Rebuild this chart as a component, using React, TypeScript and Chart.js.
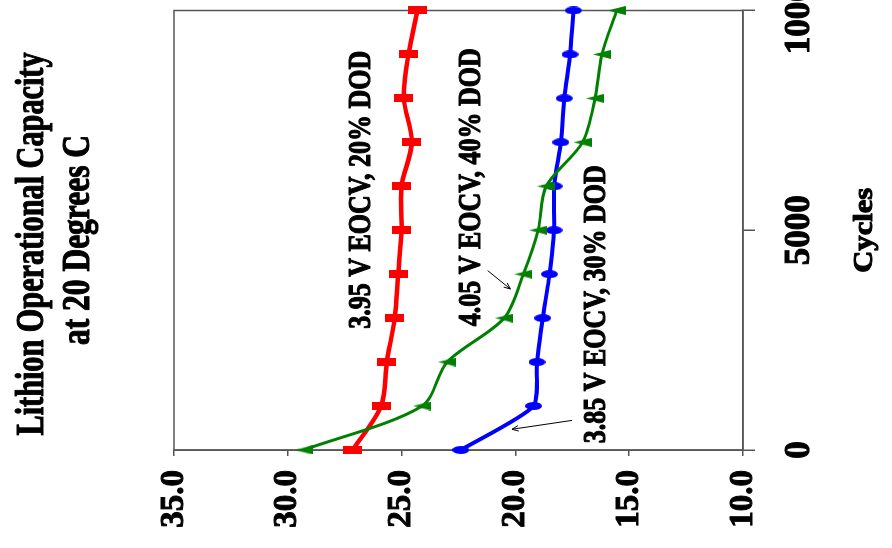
import React, { useEffect, useRef } from 'react';
import { Chart, registerables } from 'chart.js';

Chart.register(...registerables);

// ---- data ----
const cycles = [0, 1000, 2000, 3000, 4000, 5000, 6000, 7000, 8000, 9000, 10000];
const eocv395 = [27.15, 25.9, 25.65, 25.3, 25.15, 25.0, 25.0, 24.55, 24.9, 24.7, 24.3];
const eocv385 = [22.4, 19.2, 19.05, 18.8, 18.5, 18.3, 18.3, 18.0, 17.85, 17.6, 17.45];
const eocv405 = [29.3, 24.1, 23.0, 20.5, 19.65, 19.0, 18.65, 17.05, 16.5, 16.2, 15.55];
const seriesLabels = ['3.95 V EOCV, 20% DOD', '3.85 V EOCV, 30% DOD', '4.05 V EOCV, 40% DOD'];
const titleLines = ['Lithion Operational Capacity', 'at 20 Degrees C'];
const xAxisTitle = 'Cycles';
const capacityRange = [10, 35];
const cycleRange = [0, 10000];

// label anchors (in data units) for the series annotations
const labelCycles = [5921, 3315, 5978];
const labelCapacity = [26.38, 16.05, 21.54];
// arrows: [tailCycles, tailCap, headCycles, headCap]
const arrows = [
  [674, 17.51, 472, 20.15],
  [4083, 21.22, 3663, 20.22],
];

const FONT = '"Liberation Serif", "Times New Roman", serif';

function drawFit(ctx: CanvasRenderingContext2D, text: string, cx: number, baseline: number, size: number, width: number) {
  ctx.save();
  ctx.font = `bold ${size}px ${FONT}`;
  const w = ctx.measureText(text).width;
  const s = width / w;
  ctx.translate(cx, baseline);
  ctx.scale(s, 1);
  ctx.textAlign = 'center';
  ctx.textBaseline = 'alphabetic';
  ctx.fillStyle = '#000';
  ctx.strokeStyle = '#000';
  ctx.lineWidth = 1.1;
  ctx.lineJoin = 'round';
  ctx.fillText(text, 0, 0);
  ctx.strokeText(text, 0, 0);
  ctx.restore();
}

function makeMarker(kind: string, color: string, w: number, h: number) {
  const c = document.createElement('canvas');
  c.width = w;
  c.height = h;
  const g = c.getContext('2d')!;
  g.fillStyle = color;
  g.beginPath();
  if (kind === 'rect') {
    g.rect(0, 0, w, h);
  } else if (kind === 'ellipse') {
    g.ellipse(w / 2, h / 2, w / 2, h / 2, 0, 0, Math.PI * 2);
  } else {
    g.moveTo(w / 2, 0);
    g.lineTo(w, h);
    g.lineTo(0, h);
    g.closePath();
  }
  g.fill();
  return c;
}

const framePlugin = {
  id: 'frame',
  beforeDatasetsDraw(chart: any) {
    const { ctx, chartArea: a } = chart;
    ctx.save();
    ctx.strokeStyle = '#555';
    ctx.lineWidth = 1.5;
    ctx.strokeRect(a.left, a.top, a.right - a.left, a.bottom - a.top);
    ctx.restore();
  },
};

const textPlugin = {
  id: 'texts',
  afterDraw(chart: any) {
    const { ctx, chartArea: a } = chart;
    const xs = chart.scales.x;
    const ys = chart.scales.y;
    drawFit(ctx, titleLines[0], 304, 43, 39, 383);
    drawFit(ctx, titleLines[1], 308, 89, 39, 210);
    drawFit(ctx, xAxisTitle, (a.left + a.right) / 2, 872, 28, 85);
    seriesLabels.forEach((t, i) => {
      drawFit(ctx, t, xs.getPixelForValue(labelCycles[i]), ys.getPixelForValue(labelCapacity[i]), 31, 278);
    });
    ctx.save();
    ctx.strokeStyle = '#000';
    ctx.lineWidth = 1;
    arrows.forEach(([tc, tv, hc, hv]) => {
      const x1 = xs.getPixelForValue(tc);
      const y1 = ys.getPixelForValue(tv);
      const x2 = xs.getPixelForValue(hc);
      const y2 = ys.getPixelForValue(hv);
      const ang = Math.atan2(y2 - y1, x2 - x1);
      ctx.beginPath();
      ctx.moveTo(x1, y1);
      ctx.lineTo(x2, y2);
      for (const d of [0.4, -0.4]) {
        ctx.moveTo(x2, y2);
        ctx.lineTo(x2 - 7 * Math.cos(ang + d), y2 - 7 * Math.sin(ang + d));
      }
      ctx.stroke();
    });
    ctx.restore();
  },
};

export default function App() {
  const ref = useRef<HTMLCanvasElement>(null);
  useEffect(() => {
    const canvas = ref.current!;
    const red = makeMarker('rect', '#FF0000', 8, 19);
    const blue = makeMarker('ellipse', '#0000FF', 8, 17);
    const green = makeMarker('tri', '#008000', 9, 18);
    const pts = (arr: number[]) => arr.map((v, i) => ({ x: cycles[i], y: v }));
    const chart = new Chart(canvas, {
      type: 'line',
      data: {
        datasets: [
          {
            label: seriesLabels[0],
            data: pts(eocv395),
            borderColor: '#FF0000',
            backgroundColor: '#FF0000',
            borderWidth: 4.5,
            pointStyle: red as any,
            pointRadius: 6,
            tension: 0.3,
            clip: false as any,
            order: 2,
          },
          {
            label: seriesLabels[1],
            data: pts(eocv385),
            borderColor: '#0000FF',
            backgroundColor: '#0000FF',
            borderWidth: 4,
            pointStyle: blue as any,
            pointRadius: 6,
            tension: 0.2,
            clip: false as any,
            order: 1,
          },
          {
            label: seriesLabels[2],
            data: pts(eocv405),
            borderColor: '#008000',
            backgroundColor: '#008000',
            borderWidth: 3,
            pointStyle: green as any,
            pointRadius: 6,
            tension: 0.3,
            clip: false as any,
            order: 0,
          },
        ],
      },
      options: {
        responsive: false,
        animation: false,
        devicePixelRatio: 1,
        layout: { padding: { top: 174, right: 5, bottom: 0, left: 0 } },
        plugins: {
          legend: { display: false },
          tooltip: { enabled: false },
          title: { display: false },
        },
        scales: {
          x: {
            type: 'linear',
            min: cycleRange[0],
            max: cycleRange[1],
            ticks: {
              stepSize: 5000,
              callback: (v: any) => String(v),
              color: '#000',
              font: { family: FONT, size: 35, weight: 'bold' },
              textStrokeColor: '#000',
              textStrokeWidth: 1,
              padding: 24,
              maxRotation: 0,
              minRotation: 0,
              autoSkip: false,
            },
            grid: { drawOnChartArea: false, drawTicks: true, tickLength: 12, color: '#555', lineWidth: 1.5 },
            border: { color: '#555', width: 1.5 },
            afterFit: (s: any) => {
              s.height = 149;
              s.paddingLeft = 0;
              s.paddingRight = 0;
            },
          },
          y: {
            min: capacityRange[0],
            max: capacityRange[1],
            ticks: {
              stepSize: 5,
              callback: (v: any) => Number(v).toFixed(1),
              color: '#000',
              font: { family: FONT, size: 33, weight: 'bold' },
              textStrokeColor: '#000',
              textStrokeWidth: 1,
              padding: 14,
            },
            grid: { drawOnChartArea: false, drawTicks: true, tickLength: 6, color: '#555', lineWidth: 1.5 },
            border: { color: '#555', width: 1.5 },
            afterFit: (s: any) => {
              s.width = 98;
              s.paddingTop = 0;
              s.paddingBottom = 0;
            },
          },
        },
      } as any,
      plugins: [framePlugin, textPlugin],
    });
    return () => chart.destroy();
  }, []);

  return (
    <div style={{ position: 'fixed', left: 0, top: 0, width: 892, height: 548, overflow: 'hidden', background: '#fff' }}>
      <canvas
        ref={ref}
        width={548}
        height={892}
        style={{
          position: 'absolute',
          left: 0,
          top: 0,
          width: 548,
          height: 892,
          transformOrigin: '0 0',
          transform: 'translateY(548px) rotate(-90deg)',
        }}
      />
    </div>
  );
}
